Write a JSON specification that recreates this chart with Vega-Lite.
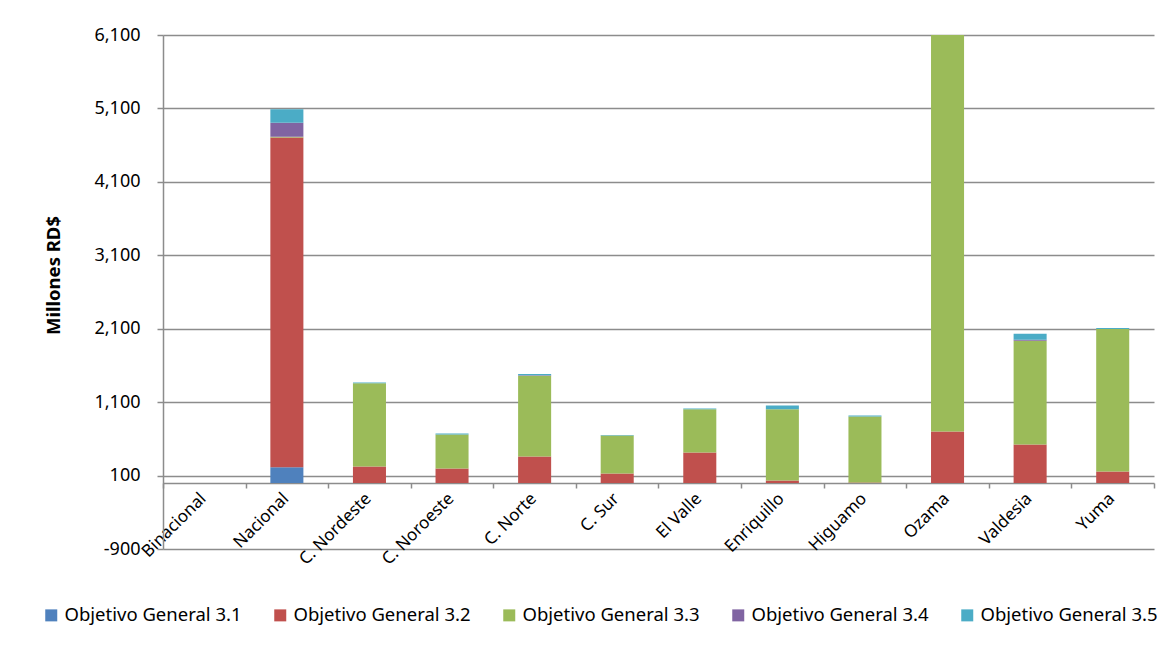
{
  "$schema": "https://vega.github.io/schema/vega-lite/v6.json",
  "width": 991,
  "height": 514,
  "autosize": {"type": "none"},
  "padding": {"left": 163, "top": 35, "right": 14, "bottom": 96},
  "background": "white",
  "config": {
    "font": "Noto Sans",
    "view": {"stroke": null}
  },
  "data": {
    "values": [
      {"region": "Nacional", "objetivo": "Objetivo General 3.1", "valor": 214},
      {"region": "Nacional", "objetivo": "Objetivo General 3.2", "valor": 4489},
      {"region": "Nacional", "objetivo": "Objetivo General 3.3", "valor": 10},
      {"region": "Nacional", "objetivo": "Objetivo General 3.4", "valor": 191},
      {"region": "Nacional", "objetivo": "Objetivo General 3.5", "valor": 186},
      {"region": "C. Nordeste", "objetivo": "Objetivo General 3.2", "valor": 223},
      {"region": "C. Nordeste", "objetivo": "Objetivo General 3.3", "valor": 1134},
      {"region": "C. Nordeste", "objetivo": "Objetivo General 3.5", "valor": 10},
      {"region": "C. Noroeste", "objetivo": "Objetivo General 3.2", "valor": 196},
      {"region": "C. Noroeste", "objetivo": "Objetivo General 3.3", "valor": 462},
      {"region": "C. Noroeste", "objetivo": "Objetivo General 3.5", "valor": 14},
      {"region": "C. Norte", "objetivo": "Objetivo General 3.2", "valor": 359},
      {"region": "C. Norte", "objetivo": "Objetivo General 3.3", "valor": 1102},
      {"region": "C. Norte", "objetivo": "Objetivo General 3.4", "valor": 5},
      {"region": "C. Norte", "objetivo": "Objetivo General 3.5", "valor": 18},
      {"region": "C.  Sur", "objetivo": "Objetivo General 3.2", "valor": 128},
      {"region": "C.  Sur", "objetivo": "Objetivo General 3.3", "valor": 517},
      {"region": "C.  Sur", "objetivo": "Objetivo General 3.5", "valor": 9},
      {"region": "El Valle", "objetivo": "Objetivo General 3.2", "valor": 413},
      {"region": "El Valle", "objetivo": "Objetivo General 3.3", "valor": 590},
      {"region": "El Valle", "objetivo": "Objetivo General 3.5", "valor": 9},
      {"region": "Enriquillo", "objetivo": "Objetivo General 3.2", "valor": 33},
      {"region": "Enriquillo", "objetivo": "Objetivo General 3.3", "valor": 970},
      {"region": "Enriquillo", "objetivo": "Objetivo General 3.5", "valor": 50},
      {"region": "Higuamo", "objetivo": "Objetivo General 3.2", "valor": 5},
      {"region": "Higuamo", "objetivo": "Objetivo General 3.3", "valor": 898},
      {"region": "Higuamo", "objetivo": "Objetivo General 3.5", "valor": 14},
      {"region": "Ozama", "objetivo": "Objetivo General 3.2", "valor": 699},
      {"region": "Ozama", "objetivo": "Objetivo General 3.3", "valor": 5401},
      {"region": "Valdesia", "objetivo": "Objetivo General 3.2", "valor": 522},
      {"region": "Valdesia", "objetivo": "Objetivo General 3.3", "valor": 1415},
      {"region": "Valdesia", "objetivo": "Objetivo General 3.4", "valor": 14},
      {"region": "Valdesia", "objetivo": "Objetivo General 3.5", "valor": 82},
      {"region": "Yuma", "objetivo": "Objetivo General 3.2", "valor": 155},
      {"region": "Yuma", "objetivo": "Objetivo General 3.3", "valor": 1941},
      {"region": "Yuma", "objetivo": "Objetivo General 3.5", "valor": 14}
    ]
  },
  "mark": {"type": "bar", "width": {"band": 0.4}},
  "encoding": {
    "x": {
      "field": "region",
      "type": "nominal",
      "scale": {
        "domain": ["Binacional", "Nacional", "C. Nordeste", "C. Noroeste", "C. Norte", "C.  Sur", "El Valle", "Enriquillo", "Higuamo", "Ozama", "Valdesia", "Yuma"],
        "paddingInner": 0,
        "paddingOuter": 0
      },
      "axis": {
        "title": null,
        "offset": -66,
        "labelAngle": -45,
        "labelFontSize": 17,
        "labelColor": "#000000",
        "labelPadding": 2,
        "labelOffset": -7,
        "tickBand": "extent",
        "tickSize": 5,
        "tickColor": "#8c8c8c",
        "tickWidth": 1.5,
        "domainColor": "#8c8c8c",
        "domainWidth": 1.5,
        "grid": false
      }
    },
    "y": {
      "field": "valor",
      "type": "quantitative",
      "stack": "zero",
      "scale": {"domain": [-900, 6100], "nice": false, "zero": false},
      "axis": {
        "title": "Millones RD$",
        "titleFontSize": 18.5,
        "titleFontWeight": "bold",
        "titleColor": "#000000",
        "titlePadding": 30,
        "titleY": 240,
        "values": [-900, 100, 1100, 2100, 3100, 4100, 5100, 6100],
        "format": ",d",
        "labelExpr": "replace(datum.label, '\u2212', '-')",
        "labelFontSize": 18,
        "labelColor": "#000000",
        "labelPadding": 17,
        "tickSize": 6,
        "tickColor": "#8c8c8c",
        "tickWidth": 1.5,
        "domainColor": "#8c8c8c",
        "domainWidth": 1.5,
        "grid": true,
        "gridColor": "#8c8c8c",
        "gridWidth": 1.5
      }
    },
    "color": {
      "field": "objetivo",
      "type": "nominal",
      "scale": {
        "domain": ["Objetivo General 3.1", "Objetivo General 3.2", "Objetivo General 3.3", "Objetivo General 3.4", "Objetivo General 3.5"],
        "range": ["#4F81BD", "#C0504D", "#9BBB59", "#8064A2", "#4BACC6"]
      },
      "legend": {
        "title": null,
        "orient": "none",
        "direction": "horizontal",
        "columns": 5,
        "legendX": -121,
        "legendY": 571,
        "symbolType": "square",
        "symbolSize": 144,
        "symbolStrokeWidth": 0,
        "labelFontSize": 18.5,
        "labelColor": "#000000",
        "labelOffset": 4,
        "columnPadding": 29,
        "labelLimit": 300
      }
    },
    "order": {"field": "objetivo", "sort": "ascending"}
  }
}
